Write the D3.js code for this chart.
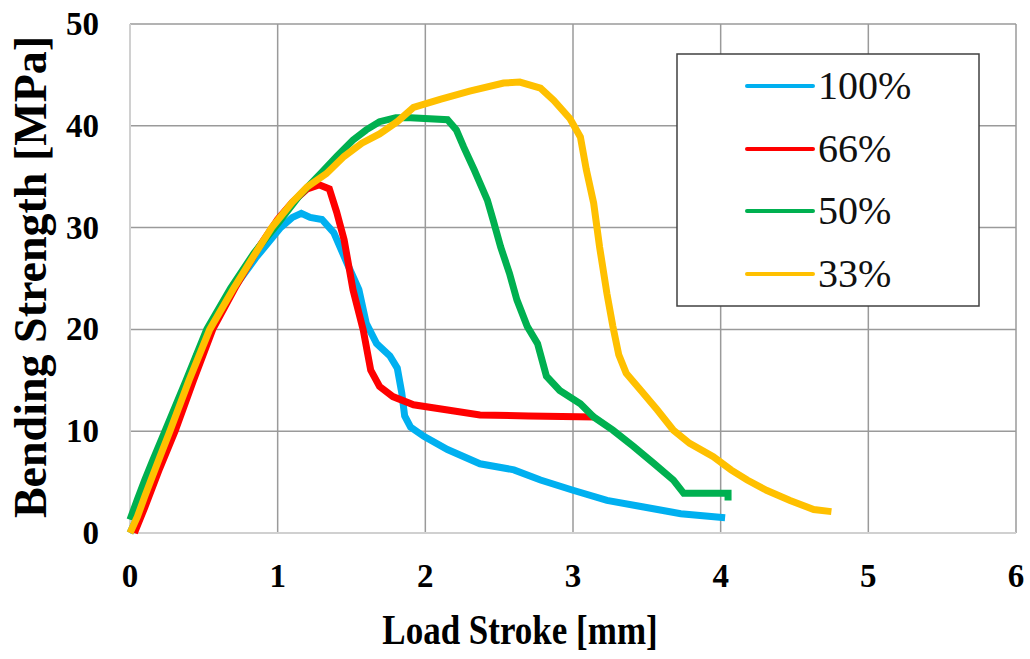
<!DOCTYPE html>
<html><head><meta charset="utf-8">
<script src="https://cdn.jsdelivr.net/npm/d3@7"></script>
<style>html,body{margin:0;padding:0;background:#fff;}svg{display:block;}</style>
</head><body>
<svg id="chart" width="1030" height="659"></svg>
<script>
const seriesNames = ["100%", "66%", "50%", "33%"];
const seriesColors = ["#00B0F0", "#FF0000", "#00B050", "#FFC000"];
const xTicks = [0, 1, 2, 3, 4, 5, 6];
const yTicks = [0, 10, 20, 30, 40, 50];

const s100 = [[0,0],[0.1,3.2],[0.2,7.2],[0.28,10],[0.45,17.4],[0.55,20.3],[0.7,24],[0.85,27],[1.02,30],[1.1,31],[1.16,31.4],[1.22,31],[1.3,30.8],[1.38,29.5],[1.47,26.5],[1.55,23.9],[1.6,20.6],[1.67,18.6],[1.76,17.4],[1.81,16.2],[1.84,13.8],[1.86,11.5],[1.9,10.4],[1.99,9.5],[2.15,8.2],[2.37,6.8],[2.6,6.2],[2.78,5.2],[3.0,4.2],[3.23,3.2],[3.46,2.6],[3.73,1.9],[4.03,1.5]];
const s66 = [[0.03,0],[0.1,2.5],[0.2,6.3],[0.305,10],[0.43,15],[0.56,20],[0.72,24.3],[0.87,28],[1.0,30.8],[1.1,32.5],[1.2,33.8],[1.28,34.2],[1.35,33.8],[1.4,31.5],[1.45,28.8],[1.51,23.9],[1.58,19.9],[1.63,16],[1.69,14.4],[1.78,13.4],[1.92,12.6],[2.14,12.1],[2.37,11.6],[2.7,11.5],[3.15,11.4]];
const s50 = [[0,1.3],[0.05,3.3],[0.1,5.2],[0.15,7],[0.237,10],[0.38,15],[0.52,20],[0.68,24],[0.84,27.5],[0.99,30.2],[1.15,33.2],[1.29,35.3],[1.4,37],[1.51,38.6],[1.6,39.6],[1.69,40.4],[1.8,40.8],[1.9,40.8],[2.15,40.6],[2.21,39.6],[2.26,37.9],[2.33,35.7],[2.42,32.7],[2.46,30.7],[2.51,28.1],[2.57,25.5],[2.62,22.9],[2.69,20.3],[2.76,18.6],[2.82,15.4],[2.91,14.0],[3.05,12.7],[3.14,11.4],[3.27,10.1],[3.41,8.5],[3.55,6.8],[3.68,5.2],[3.75,3.9],[4.05,3.9],[4.05,3.2]];
const s33 = [[0,0],[0.05,1.6],[0.1,3.6],[0.15,5.5],[0.2,7.4],[0.27,10],[0.4,15],[0.54,20],[0.7,24],[0.85,27.5],[0.96,30],[1.1,32.5],[1.2,34],[1.33,35.3],[1.45,37],[1.57,38.3],[1.69,39.2],[1.81,40.4],[1.92,41.8],[2.1,42.6],[2.3,43.4],[2.53,44.2],[2.64,44.3],[2.78,43.7],[2.87,42.5],[2.98,40.7],[3.05,38.9],[3.09,35.7],[3.14,32.4],[3.18,28.1],[3.23,23.5],[3.27,20.3],[3.31,17.5],[3.36,15.7],[3.46,14.0],[3.57,12.1],[3.68,10.1],[3.79,8.8],[3.95,7.5],[4.07,6.2],[4.18,5.2],[4.31,4.2],[4.47,3.2],[4.63,2.3],[4.75,2.1]];
const seriesData = [s100, s66, s50, s33];

const svg = d3.select("#chart");
const pLeft = 130, pRight = 1016, pTop = 24, pBottom = 533;
const x = d3.scaleLinear().domain([0, 6]).range([pLeft, pRight]);
const y = d3.scaleLinear().domain([0, 50]).range([pBottom, pTop]);

// gridlines
const g = svg.append("g");
g.selectAll("line.h").data(yTicks.filter(d => d > 0)).join("line")
  .attr("x1", pLeft).attr("x2", pRight).attr("y1", d => y(d)).attr("y2", d => y(d))
  .attr("stroke", "#9a9a9a").attr("stroke-width", 1.5);
g.selectAll("line.v").data(xTicks.filter(d => d > 0)).join("line")
  .attr("y1", pTop).attr("y2", pBottom).attr("x1", d => x(d)).attr("x2", d => x(d))
  .attr("stroke", "#9a9a9a").attr("stroke-width", 1.5);
// axes lines
svg.append("line").attr("x1", pLeft).attr("x2", pRight).attr("y1", pBottom).attr("y2", pBottom)
  .attr("stroke", "#d0d0d0").attr("stroke-width", 2);
svg.append("line").attr("x1", pLeft).attr("x2", pLeft).attr("y1", pTop).attr("y2", pBottom)
  .attr("stroke", "#d0d0d0").attr("stroke-width", 2);

// tick labels
svg.selectAll("text.xt").data(xTicks).join("text")
  .attr("x", d => x(d)).attr("y", 587).attr("text-anchor", "middle")
  .attr("font-family", "'Liberation Serif','Times New Roman',serif").attr("font-weight", "bold")
  .attr("font-size", 33).text(d => d);
svg.selectAll("text.yt").data(yTicks).join("text")
  .attr("x", 99).attr("y", d => y(d) + 11).attr("text-anchor", "end")
  .attr("font-family", "'Liberation Serif','Times New Roman',serif").attr("font-weight", "bold")
  .attr("font-size", 33).text(d => d);

// axis titles
svg.append("text").attr("transform", "translate(520,644) scale(1,1.2)")
  .attr("text-anchor", "middle")
  .attr("font-family", "'Liberation Serif','Times New Roman',serif").attr("font-weight", "bold")
  .attr("font-size", 35).text("Load Stroke [mm]");
svg.append("text").attr("transform", "translate(46,277) rotate(-90)")
  .attr("text-anchor", "middle")
  .attr("font-family", "'Liberation Serif','Times New Roman',serif").attr("font-weight", "bold")
  .attr("font-size", 46).text("Bending Strength [MPa]");

// series
const line = d3.line().x(d => x(d[0])).y(d => y(d[1]));
svg.append("g").selectAll("path").data(seriesData).join("path")
  .attr("d", line).attr("fill", "none")
  .attr("stroke", (d, i) => seriesColors[i]).attr("stroke-width", 7)
  .attr("stroke-linejoin", "miter");

// legend
const lg = svg.append("g");
lg.append("rect").attr("x", 677).attr("y", 54).attr("width", 302).attr("height", 252)
  .attr("fill", "#fff").attr("stroke", "#404040").attr("stroke-width", 1.5);
const legY = [86, 149, 211, 274];
seriesNames.forEach((n, i) => {
  lg.append("line").attr("x1", 747).attr("x2", 813).attr("y1", legY[i]).attr("y2", legY[i])
    .attr("stroke", seriesColors[i]).attr("stroke-width", 4).attr("stroke-linecap", "round");
  lg.append("text").attr("x", 818).attr("y", legY[i] + 13)
    .attr("font-family", "'Liberation Serif','Times New Roman',serif")
    .attr("font-size", 40).attr("fill", "#111").text(n);
});
</script>
</body></html>
